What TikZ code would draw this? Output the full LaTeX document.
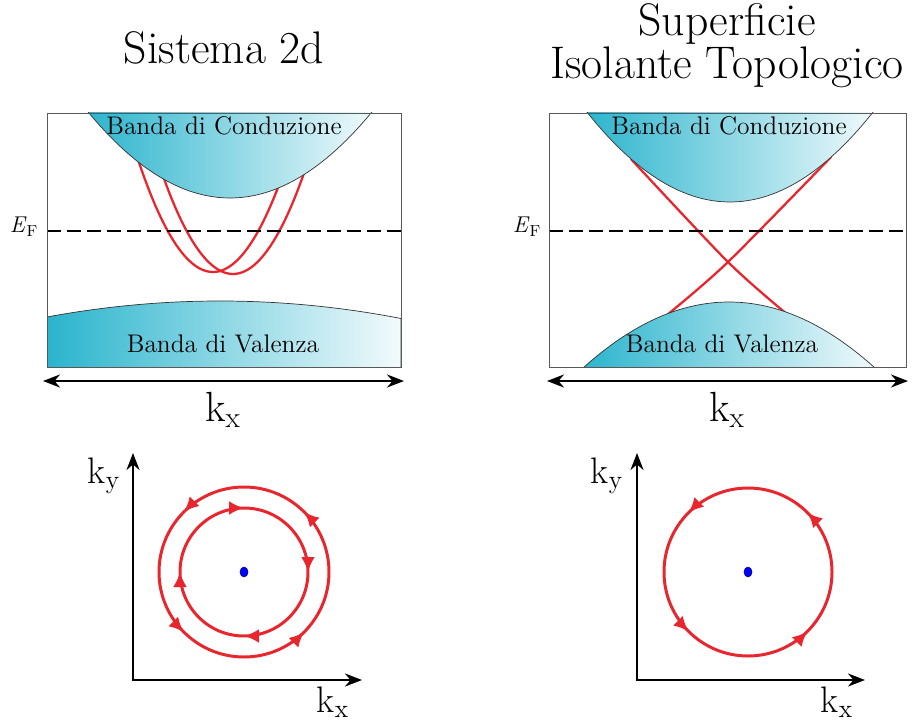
\documentclass[tikz,border=0pt]{standalone}
\usepackage{fontspec}
\usetikzlibrary{arrows.meta, positioning, decorations.markings, shapes.geometric}
\definecolor{bandteal}{RGB}{42,180,205}
\definecolor{statered}{RGB}{232,38,46}

\begin{document}
\begin{tikzpicture}[
    x=0.2mm, y=0.2mm,
    title/.style={font=\fontsize{26}{30}\selectfont, inner sep=0, anchor=base},
    bandlabel/.style={font=\fontsize{14.5}{17}\selectfont, inner sep=0, anchor=base},
    klabel/.style={font=\fontsize{24}{28}\selectfont, inner sep=0, anchor=base},
    kaxlabel/.style={font=\fontsize{21}{24}\selectfont, inner sep=0, anchor=base},
    eflabel/.style={font=\fontsize{13}{15}\selectfont, inner sep=0, anchor=base},
    panel/.style={draw=black!65, line width=0.5pt},
    band/.style={left color=bandteal, right color=bandteal!6, draw=black!80, line width=0.4pt},
    fermi/.style={draw, line width=1.3pt, dash pattern=on 2.8mm off 1.2mm},
    state/.style={draw=statered, line width=1.3pt},
    axis/.style={draw, line width=1.3pt, {Stealth[length=3.4mm, width=2.6mm]}-{Stealth[length=3.4mm, width=2.6mm]}},
    orbit/.style={draw=statered, line width=1.7pt, postaction={decorate},
        decoration={markings, mark=between positions 0.125 and 0.875 step 0.25
            with {\arrow{Latex[length=3mm, width=2.8mm]}}}},
    spin/.style={ellipse, fill=blue, draw=blue!40!black, line width=0.3pt,
        minimum width=1.6mm, minimum height=2mm, inner sep=0}
]
\useasboundingbox (0,0) rectangle (912,-720);

% Titles
\node[title] (t1) at (224,-64) {Sistema 2d};
\node[title] (t2a) at (727,-36) {Superficie};
\node[title] (t2b) at (727,-79) {Isolante Topologico};

% Left panel: 2d system
\begin{scope}
\clip (47,-113) rectangle (401,-367);
\draw[state] plot[domain=136:280, samples=50] (\x, {-272+0.02*(\x-213)*(\x-213)});
\draw[state] plot[domain=163:312, samples=50] (\x, {-274+0.02*(\x-233)*(\x-233)});
\shade[band] plot[domain=85:376, samples=60] (\x, {-198+0.00428*(\x-230)*(\x-230)}) -- cycle;
\shade[band] (47,-370) -- plot[domain=47:401, samples=60] (\x, {-301-0.00054*(\x-220)*(\x-220)}) -- (401,-370) -- cycle;
\end{scope}
\coordinate (ef1) at (47,-231);
\coordinate (ef1r) at (401,-231);
\draw[fermi] (ef1) -- (ef1r);
\draw[panel] (47,-113) rectangle (401,-367);
\node[bandlabel] (cb1) at (224,-135) {Banda di Conduzione};
\node[bandlabel] (vb1) at (223,-352) {Banda di Valenza};
\node[eflabel] (EF1) at (24,-233) {\textit{E}\textsubscript{F}};

% Right panel: topological insulator surface
\begin{scope}
\clip (549,-113) rectangle (906,-367);
\draw[state] plot[smooth] coordinates {(631,-159) (728,-262) (788,-315)};
\draw[state] plot[smooth] coordinates {(831,-157) (728,-262) (667,-315)};
\shade[band] plot[domain=582:878, samples=60] (\x, {-202+0.0044*(\x-730)*(\x-730)}) -- cycle;
\shade[band] plot[domain=580:878, samples=60] (\x, {-302-0.0031*(\x-729)*(\x-729)}) -- cycle;
\end{scope}
\coordinate (ef2) at (549,-231);
\coordinate (ef2r) at (906,-231);
\draw[fermi] (ef2) -- (ef2r);
\draw[panel] (549,-113) rectangle (906,-367);
\node[bandlabel] (cb2) at (729,-135) {Banda di Conduzione};
\node[bandlabel] (vb2) at (722,-352) {Banda di Valenza};
\node[eflabel] (EF2) at (527,-233) {\textit{E}\textsubscript{F}};

% k_x axes under the panels
\coordinate (kL1) at (43,-381);
\coordinate (kR1) at (404,-381);
\coordinate (kL2) at (547,-381);
\coordinate (kR2) at (908,-381);
\draw[axis] (kL1) -- (kR1);
\draw[axis] (kL2) -- (kR2);
\node[klabel] (kx1) at (223,-421) {k\textsubscript{x}};
\node[klabel] (kx2) at (727,-421) {k\textsubscript{x}};

% Fermi contours, 2d system
\coordinate (Y1) at (133,-453);
\coordinate (X1) at (362,-680);
\draw[axis] (Y1) |- (X1);
\node[kaxlabel] (ky1) at (104,-483) {k\textsubscript{y}};
\node[kaxlabel] (kxb1) at (333,-712) {k\textsubscript{x}};
\node[spin] (c1) at (244,-572) {};
\draw[orbit] (c1) ++(0:85) arc[start angle=0, end angle=360, radius=85];
\draw[orbit] (c1) ++(45:64) arc[start angle=45, end angle=-315, radius=64];

% Fermi contour, surface
\coordinate (Y2) at (637,-453);
\coordinate (X2) at (865,-680);
\draw[axis] (Y2) |- (X2);
\node[kaxlabel] (ky2) at (607,-483) {k\textsubscript{y}};
\node[kaxlabel] (kxb2) at (837,-712) {k\textsubscript{x}};
\node[spin] (c2) at (748,-572) {};
\draw[orbit] (c2) ++(0:84) arc[start angle=0, end angle=360, radius=84];
\end{tikzpicture}
\end{document}
